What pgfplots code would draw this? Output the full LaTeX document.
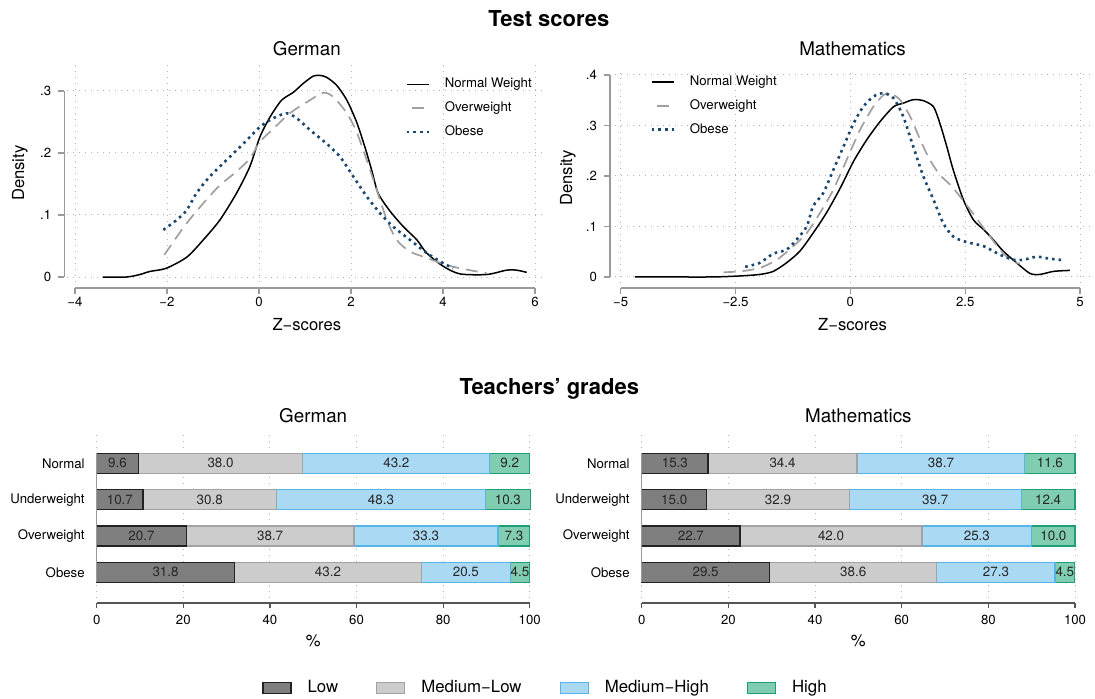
\documentclass[border=0pt]{standalone}
\usepackage{fontspec}
\setmainfont{TeX Gyre Heros}
\setsansfont{TeX Gyre Heros}
\usepackage{pgfplots}
\pgfplotsset{compat=1.18}
\usepackage{pgfplotstable}

\definecolor{navyst}{HTML}{1A476F}
\definecolor{owgray}{HTML}{A0A0A0}
\definecolor{axgray}{HTML}{9A9A9A}
\definecolor{darkax}{HTML}{555555}
\definecolor{gridc}{HTML}{B5B5B5}
\definecolor{lowfill}{HTML}{7F7F7F}
\definecolor{lowdraw}{HTML}{222222}
\definecolor{mlfill}{HTML}{CCCCCC}
\definecolor{mldraw}{HTML}{A3A3A3}
\definecolor{mhfill}{HTML}{AAD9F4}
\definecolor{mhdraw}{HTML}{56B4E9}
\definecolor{hifill}{HTML}{80CDB2}
\definecolor{hidraw}{HTML}{1E9E77}

\newcommand\ftick{\fontsize{6.6pt}{7.9pt}\selectfont}
\newcommand\fbar{\fontsize{6.7pt}{8pt}\selectfont}
\newcommand\flab{\fontsize{8.3pt}{10pt}\selectfont}
\newcommand\fsub{\fontsize{9.4pt}{11pt}\selectfont}
\newcommand\fleg{\fontsize{8.4pt}{10pt}\selectfont}
\newcommand\ftitle{\fontsize{11pt}{13pt}\selectfont\bfseries}

% share of pupils per grade band, by weight group
\pgfplotstableread{
cat low medlow medhigh high
4 9.6 38.0 43.2 9.2
3 10.7 30.8 48.3 10.3
2 20.7 38.7 33.3 7.3
1 31.8 43.2 20.5 4.5
}\gradesGerman
\pgfplotstableread{
cat low medlow medhigh high
4 15.3 34.4 38.7 11.6
3 15.0 32.9 39.7 12.4
2 22.7 42.0 25.3 10.0
1 29.5 38.6 27.3 4.5
}\gradesMath

\pgfplotsset{
  /pgf/number format/assume math mode=true,
  dens/.style={
    scale only axis, clip=false,
    axis x line*=bottom, axis y line*=left,
    axis line style={draw=none},
    tick align=outside, major tick length=3pt,
    tick style={axgray, line width=0.6pt},
    grid=major,
    grid style={gridc, line width=0.5pt, dash pattern=on 0.6pt off 2.4pt},
    ticklabel style={font=\ftick},
    xticklabel style={yshift=2pt},
    xlabel={Z−scores}, ylabel={Density},
    legend style={draw=none, fill=none, font=\ftick, inner sep=0pt,
      row sep=5.4pt,
      nodes={inner sep=0pt, text height=5pt, text depth=1.5pt},
      /tikz/every odd column/.append style={column sep=7.4pt}},
    legend cell align=left,
    legend image code/.code={\draw[##1] (0pt,0pt) -- (11pt,0pt);},
  },
  nw/.style={black, line width=0.75pt, smooth, tension=0.45},
  ow/.style={owgray, line width=0.85pt, dash pattern=on 6pt off 3.5pt, dash phase=7pt, smooth, tension=0.45},
  ob/.style={navyst, line width=1.3pt, dash pattern=on 1.3pt off 2pt, smooth, tension=0.45},
  bars/.style={
    scale only axis, clip=false,
    xbar stacked, bar width=10pt,
    xmin=0, xmax=100, ymin=0.29, ymax=4.86,
    axis x line*=bottom, axis y line*=left, axis x line shift=2.65pt,
    axis line style={draw=none},
    tick align=outside, major tick length=2.5pt,
    x tick style={darkax, line width=0.6pt}, y tick style={draw=none},
    xtick={0,20,...,100}, ytick={1,2,3,4},
    yticklabels={Obese,Overweight,Underweight,Normal},
    xmajorgrids,
    grid style={gridc, line width=0.5pt, dash pattern=on 0.6pt off 2.4pt},
    ticklabel style={font=\ftick},
    xlabel={\%},
    every axis title/.style={at={(axis description cs:0.5,1.097)}, anchor=center, font=\fsub},
    every axis x label/.style={at={(axis description cs:0.5,-0.257)}, anchor=center, font=\flab},
  },
  seg/.style n args={2}{fill=#1, draw=#2, line width=0.6pt, forget plot},
  % value labels, set in the middle of each stacked segment
  barlabels/.style={
    scale only axis, hide axis, clip=false,
    xmin=0, xmax=100, ymin=0.29, ymax=4.86,
    point meta=explicit,
    nodes near coords={\pgfmathprintnumber[fixed,fixed zerofill,precision=1]{\pgfplotspointmeta}},
    every node near coord/.append style={font=\fbar, anchor=center, inner sep=0pt, text=black!85},
  },
  lab/.style={draw=none, mark=none},
}

\begin{document}
\begin{tikzpicture}
\path[use as bounding box] (0,0) rectangle (547.5pt,-349pt);

\node[font=\ftitle, anchor=base] at (274.4pt,-13.35pt) {Test scores};
\node[font=\ftitle, anchor=base] at (274.65pt,-197.15pt) {Teachers’ grades};

% ---------- German test-score densities ----------
\begin{axis}[dens, at={(33.5pt,-140.85pt)}, anchor=south west,
  width=239.85pt, height=108.4pt,
  xmin=-4.174, xmax=6.254, ymin=-0.0076, ymax=0.342,
  axis x line shift=3.15pt, axis y line shift=1.35pt,
  xtick={-4,-2,0,2,4,6}, xticklabels={−4,−2,0,2,4,6},
  ytick={0,0.1,0.2,0.3}, yticklabels={0,.1,.2,.3},
  title=German,
  every axis title/.style={at={(axis description cs:0.5,1.0733)}, anchor=center, font=\fsub},
  every axis x label/.style={at={(axis description cs:0.5,-0.1997)}, anchor=center, font=\flab},
  every axis y label/.style={at={(axis description cs:-0.098,0.5)}, rotate=90, anchor=center, font=\flab},
  legend style={at={(axis description cs:0.7046,0.942)}, anchor=north west},
]
\draw[axgray, line width=0.7pt] ([yshift=-3.15pt]axis cs:-4,-0.0076) -- ([yshift=-3.15pt]axis cs:6,-0.0076);
\draw[axgray, line width=0.7pt] ([xshift=-1.35pt]axis cs:-4.174,0) -- ([xshift=-1.35pt]axis cs:-4.174,0.3);
\addplot[nw] coordinates {(-3.4,0) (-2.88,0) (-2.59,0.004) (-2.37,0.009) (-2.02,0.014)
  (-1.57,0.032) (-1.21,0.06) (-0.85,0.092) (-0.49,0.135) (-0.2,0.178) (0.02,0.226)
  (0.24,0.258) (0.49,0.285) (0.75,0.298) (0.96,0.312) (1.18,0.324) (1.33,0.325)
  (1.47,0.322) (1.69,0.309) (1.91,0.285) (2.12,0.25) (2.3,0.21) (2.45,0.172)
  (2.59,0.135) (2.85,0.106) (3.14,0.081) (3.43,0.06) (3.64,0.039) (4.01,0.017)
  (4.37,0.005) (4.95,0.004) (5.38,0.011) (5.6,0.011) (5.82,0.0075)};
\addlegendentry{Normal Weight}
\addplot[ow] coordinates {(-2.12,0.029) (-1.86,0.057) (-1.57,0.087) (-1.21,0.119)
  (-0.85,0.148) (-0.49,0.17) (-0.2,0.191) (0.02,0.218) (0.31,0.239) (0.67,0.264)
  (1.04,0.282) (1.4,0.297) (1.62,0.29) (1.91,0.264) (2.12,0.234) (2.34,0.189)
  (2.56,0.14) (2.78,0.092) (2.99,0.06) (3.28,0.041) (3.64,0.031) (4.01,0.021)
  (4.37,0.014) (4.95,0.006)};
\addlegendentry{Overweight}
\addplot[ob] coordinates {(-2.08,0.076) (-1.79,0.092) (-1.57,0.108) (-1.36,0.135)
  (-1.07,0.162) (-0.7,0.189) (-0.34,0.215) (0.02,0.242) (0.31,0.256) (0.6,0.264)
  (0.82,0.256) (1.11,0.237) (1.47,0.215) (1.76,0.194) (2.05,0.162) (2.34,0.13)
  (2.63,0.103) (2.92,0.081) (3.28,0.06) (3.64,0.039) (4.01,0.022) (4.22,0.014)};
\addlegendentry{Obese}
\end{axis}

% ---------- Mathematics test-score densities ----------
\begin{axis}[dens, at={(307.5pt,-141.5pt)}, anchor=south west,
  width=237.5pt, height=105.05pt,
  xmin=-5.124, xmax=5.218, ymin=-0.012, ymax=0.404,
  axis x line shift=2.5pt, axis y line shift=2.5pt,
  xtick={-5,-2.5,0,2.5,5}, xticklabels={−5,−2.5,0,2.5,5},
  ytick={0,0.1,0.2,0.3,0.4}, yticklabels={0,.1,.2,.3,.4},
  title=Mathematics,
  every axis title/.style={at={(axis description cs:0.5,1.1138)}, anchor=center, font=\fsub},
  every axis x label/.style={at={(axis description cs:0.5,-0.2)}, anchor=center, font=\flab},
  every axis y label/.style={at={(axis description cs:-0.099,0.5)}, rotate=90, anchor=center, font=\flab},
  legend style={at={(axis description cs:0.0737,0.989)}, anchor=north west},
]
\draw[axgray, line width=0.7pt] ([yshift=-2.5pt]axis cs:-5,-0.012) -- ([yshift=-2.5pt]axis cs:5,-0.012);
\draw[axgray, line width=0.7pt] ([xshift=-2.5pt]axis cs:-5.124,0) -- ([xshift=-2.5pt]axis cs:-5.124,0.4);
\addplot[nw] coordinates {(-4.69,0) (-4,0) (-3,0) (-2.4,0.002) (-1.97,0.005)
  (-1.68,0.011) (-1.39,0.028) (-1.1,0.051) (-0.81,0.087) (-0.52,0.127) (-0.22,0.176)
  (0.07,0.229) (0.36,0.272) (0.65,0.308) (0.94,0.337) (1.15,0.344) (1.37,0.351)
  (1.59,0.349) (1.81,0.337) (1.95,0.304) (2.1,0.258) (2.24,0.212) (2.46,0.153)
  (2.68,0.113) (2.9,0.094) (3.11,0.074) (3.33,0.051) (3.62,0.028) (3.91,0.007)
  (4.13,0.005) (4.42,0.011) (4.78,0.013)};
\addlegendentry{Normal Weight}
\addplot[ow] coordinates {(-2.87,0.009) (-2.4,0.011) (-1.97,0.018) (-1.6,0.034)
  (-1.24,0.061) (-0.95,0.087) (-0.66,0.127) (-0.37,0.173) (-0.08,0.232) (0.21,0.291)
  (0.5,0.337) (0.72,0.36) (0.86,0.364) (1.08,0.351) (1.3,0.318) (1.52,0.272)
  (1.73,0.232) (1.95,0.202) (2.17,0.183) (2.39,0.159) (2.61,0.133) (2.82,0.107)
  (3.04,0.08) (3.26,0.054) (3.48,0.034) (3.69,0.026)};
\addlegendentry{Overweight}
\addplot[ob] coordinates {(-2.29,0.02) (-1.97,0.028) (-1.68,0.046) (-1.39,0.054)
  (-1.17,0.074) (-0.95,0.1) (-0.81,0.14) (-0.59,0.166) (-0.37,0.212) (-0.15,0.258)
  (0.07,0.304) (0.28,0.337) (0.5,0.357) (0.72,0.364) (0.94,0.354) (1.15,0.318)
  (1.37,0.258) (1.59,0.199) (1.81,0.153) (2.02,0.107) (2.24,0.08) (2.53,0.069)
  (2.9,0.061) (3.26,0.044) (3.55,0.034) (3.77,0.034) (4.06,0.04) (4.35,0.036)
  (4.67,0.033)};
\addlegendentry{Obese}
\end{axis}

% ---------- German teachers' grades ----------
\begin{axis}[bars, at={(48.35pt,-299pt)}, anchor=south west,
  width=216.5pt, height=82.95pt, title=German,
  legend columns=4,
  legend style={at={(axis description cs:1.0388,-0.5425)}, anchor=center,
    draw=none, fill=none, font=\fleg,
    /tikz/every even column/.append style={column sep=17pt},
    /tikz/every odd column/.append style={column sep=6pt}},
  legend image code/.code={\draw[#1] (0pt,-2.75pt) rectangle (14pt,2.75pt);},
]
\draw[axgray, line width=0.5pt] (axis cs:0,0.7245) -- (axis cs:0,4.2755);
\draw[darkax, line width=1.1pt] ([yshift=-2.65pt]axis cs:0,0.29) -- ([yshift=-2.65pt]axis cs:100,0.29);
\addplot[seg={lowfill}{lowdraw}] table[x=low, y=cat] {\gradesGerman};
\addplot[seg={mlfill}{mldraw}] table[x=medlow, y=cat] {\gradesGerman};
\addplot[seg={mhfill}{mhdraw}] table[x=medhigh, y=cat] {\gradesGerman};
\addplot[seg={hifill}{hidraw}] table[x=high, y=cat] {\gradesGerman};
\addlegendimage{fill=lowfill, draw=lowdraw, line width=0.6pt}
\addlegendentry{Low}
\addlegendimage{fill=mlfill, draw=mldraw, line width=0.6pt}
\addlegendentry{Medium−Low}
\addlegendimage{fill=mhfill, draw=mhdraw, line width=0.6pt}
\addlegendentry{Medium−High}
\addlegendimage{fill=hifill, draw=hidraw, line width=0.6pt}
\addlegendentry{High}
\end{axis}
\begin{axis}[barlabels, at={(48.35pt,-299pt)}, anchor=south west,
  width=216.5pt, height=82.95pt]
\addplot[lab] table[x expr={\thisrow{low}/2}, y=cat, meta=low] {\gradesGerman};
\addplot[lab] table[x expr={\thisrow{low}+\thisrow{medlow}/2}, y=cat, meta=medlow] {\gradesGerman};
\addplot[lab] table[x expr={\thisrow{low}+\thisrow{medlow}+\thisrow{medhigh}/2}, y=cat, meta=medhigh] {\gradesGerman};
\addplot[lab] table[x expr={\thisrow{low}+\thisrow{medlow}+\thisrow{medhigh}+\thisrow{high}/2}, y=cat, meta=high] {\gradesGerman};
\end{axis}

% ---------- Mathematics teachers' grades ----------
\begin{axis}[bars, at={(320.85pt,-299pt)}, anchor=south west,
  width=216.65pt, height=82.95pt, title=Mathematics]
\draw[axgray, line width=0.5pt] (axis cs:0,0.7245) -- (axis cs:0,4.2755);
\draw[darkax, line width=1.1pt] ([yshift=-2.65pt]axis cs:0,0.29) -- ([yshift=-2.65pt]axis cs:100,0.29);
\addplot[seg={lowfill}{lowdraw}] table[x=low, y=cat] {\gradesMath};
\addplot[seg={mlfill}{mldraw}] table[x=medlow, y=cat] {\gradesMath};
\addplot[seg={mhfill}{mhdraw}] table[x=medhigh, y=cat] {\gradesMath};
\addplot[seg={hifill}{hidraw}] table[x=high, y=cat] {\gradesMath};
\end{axis}
\begin{axis}[barlabels, at={(320.85pt,-299pt)}, anchor=south west,
  width=216.65pt, height=82.95pt]
\addplot[lab] table[x expr={\thisrow{low}/2}, y=cat, meta=low] {\gradesMath};
\addplot[lab] table[x expr={\thisrow{low}+\thisrow{medlow}/2}, y=cat, meta=medlow] {\gradesMath};
\addplot[lab] table[x expr={\thisrow{low}+\thisrow{medlow}+\thisrow{medhigh}/2}, y=cat, meta=medhigh] {\gradesMath};
\addplot[lab] table[x expr={\thisrow{low}+\thisrow{medlow}+\thisrow{medhigh}+\thisrow{high}/2}, y=cat, meta=high] {\gradesMath};
\end{axis}
\end{tikzpicture}
\end{document}
